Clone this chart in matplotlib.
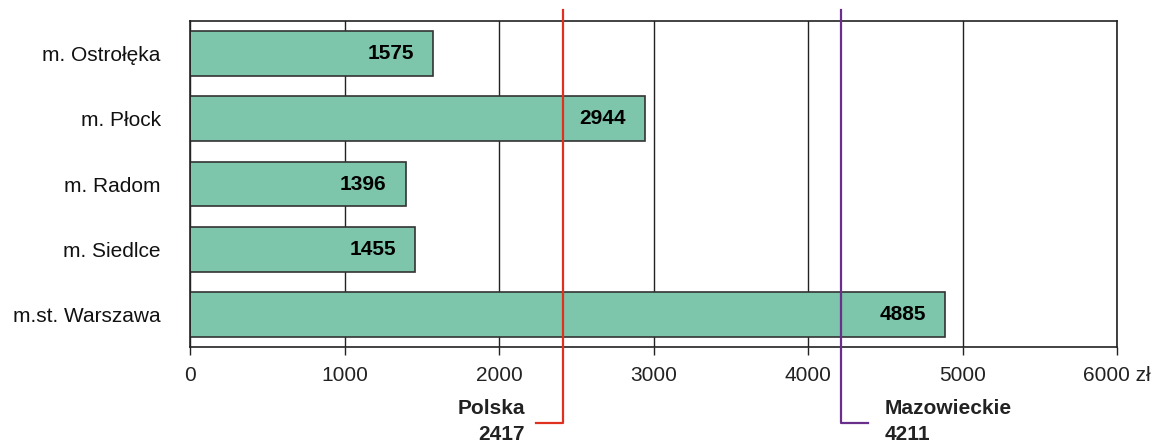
import numpy as np
import matplotlib.pyplot as plt
from matplotlib.transforms import blended_transform_factory

plt.rcParams['font.family'] = ['Liberation Sans', 'DejaVu Sans']

# data
cities = ["m. Ostrołęka", "m. Płock", "m. Radom", "m. Siedlce", "m.st. Warszawa"]
values = [1575, 2944, 1396, 1455, 4885]
polska = 2417
mazowieckie = 4211
xticks = [0, 1000, 2000, 3000, 4000, 5000, 6000]
xtick_labels = ["0", "1000", "2000", "3000", "4000", "5000", "6000 zł"]

# axes box in pixels (figure is 1164x443)
L, R, T, B = 190, 1117, 21, 347
fig = plt.figure(figsize=(11.64, 4.43), dpi=100)
ax = fig.add_axes([L / 1164, 1 - B / 443, (R - L) / 1164, (B - T) / 443])

y = np.arange(len(cities))
ax.barh(y, values, height=0.69, color="#7dc5ab", edgecolor="#333333", linewidth=1.2, zorder=2)
for yi, v in zip(y, values):
    ax.annotate(str(v), (v, yi), xytext=(-19, 0), textcoords="offset pixels",
                ha="right", va="center", fontsize=15, fontweight="bold", zorder=4)

ax.set_xlim(0, 6000)
ax.set_ylim(len(cities) - 0.5, -0.5)
ax.set_yticks(y)
ax.set_yticklabels(cities, fontsize=15, color="#111111")
ax.set_xticks(xticks)
ax.set_xticklabels(xtick_labels, fontsize=15, color="#222222")
ax.tick_params(axis="y", length=0, pad=21)
ax.tick_params(axis="x", length=6, width=1, direction="out", pad=8, color="#222222")
ax.grid(axis="x", color="#222222", linewidth=1, zorder=1)
for s in ax.spines.values():
    s.set_linewidth(1.2)
    s.set_color("#222222")

# reference lines with labels below the axis
tr = blended_transform_factory(ax.transData, ax.transAxes)
h = B - T
top = (B - 10) / h
bot = (B - 423) / h
ax.plot([polska, polska, (536 - L) / (R - L) * 6000], [top, bot, bot], color="#e03020", lw=1.6,
        transform=tr, clip_on=False, zorder=3)
ax.plot([mazowieckie, mazowieckie, (868 - L) / (R - L) * 6000], [top, bot, bot], color="#6a2f8a", lw=1.6,
        transform=tr, clip_on=False, zorder=3)
xp = (525 - L) / (R - L) * 6000
xm = (885 - L) / (R - L) * 6000
for txt, yy in [("Polska", 409), (str(polska), 435)]:
    ax.text(xp, (B - yy) / h, txt, transform=tr, ha="right", va="center",
            fontsize=15, fontweight="bold", color="#222222")
for txt, yy in [("Mazowieckie", 409), (str(mazowieckie), 435)]:
    ax.text(xm, (B - yy) / h, txt, transform=tr, ha="left", va="center",
            fontsize=15, fontweight="bold", color="#222222")

fig.savefig("out.png", dpi=100)
